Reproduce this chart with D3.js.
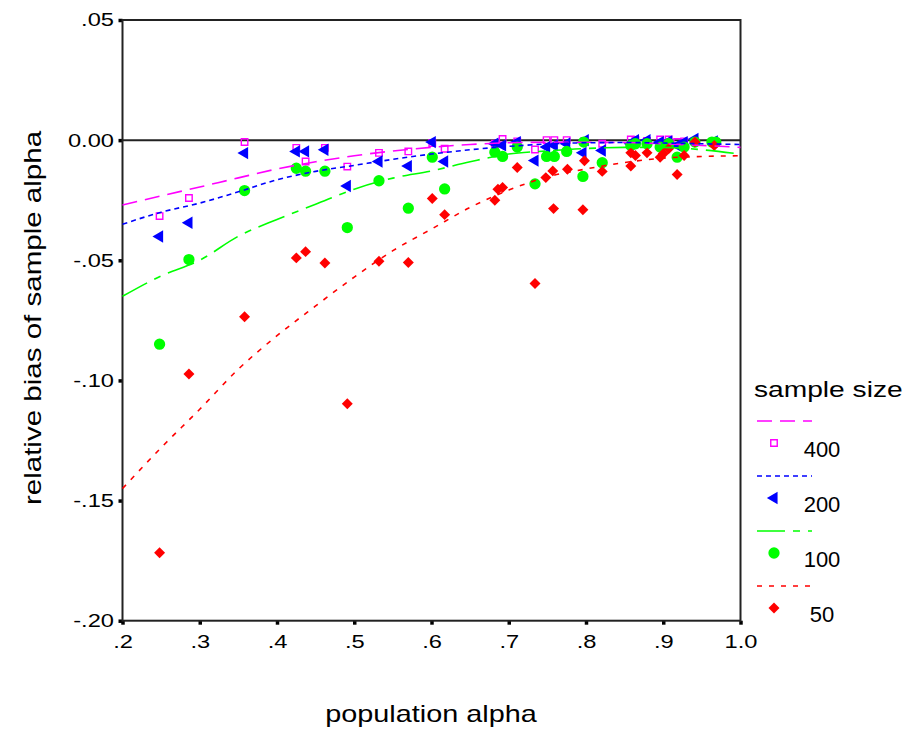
<!DOCTYPE html>
<head>
  <meta charset='utf-8'>
  <title>relative bias of sample alpha</title>
  <style>
    body {
      margin: 0;
      background: #fff;
    }
    svg text {
      font-family: Arial, "Liberation Sans", sans-serif;
      fill: #000;
    }
  </style>
</head>

<body>
  <div id="chart"></div>

  <script src="https://cdnjs.cloudflare.com/ajax/libs/d3/7.8.5/d3.min.js"></script>
  <script type="text/javascript">
    // points: [population alpha, relative bias]
    var n400 = [[0.248,-0.0316],[0.286,-0.0241],[0.358,-0.0008],[0.425,-0.0032],[0.437,-0.0089],
                [0.462,-0.0032],[0.491,-0.0110],[0.532,-0.0053],[0.570,-0.0047],[0.601,-0.0012],
                [0.617,-0.0036],[0.682,-0.0015],[0.692,0.0005],[0.711,-0.0005],[0.734,-0.0039],
                [0.749,0.0000],[0.759,0.0000],[0.775,0.0000],[0.798,-0.0003],[0.821,-0.0015],
                [0.858,0.0003],[0.864,0.0000],[0.879,-0.0003],[0.896,0.0003],[0.907,0.0003],
                [0.918,-0.0008],[0.927,-0.0005],[0.941,-0.0003],[0.966,-0.0003]];

    var n200 = [[0.248,-0.0401],[0.286,-0.0344],[0.358,-0.0054],[0.425,-0.0047],[0.437,-0.0047],
                [0.462,-0.0040],[0.491,-0.0191],[0.532,-0.0089],[0.570,-0.0108],[0.601,-0.0008],
                [0.617,-0.0089],[0.682,-0.0015],[0.692,-0.0022],[0.711,-0.0008],[0.734,-0.0085],
                [0.749,-0.0029],[0.759,-0.0022],[0.775,-0.0015],[0.796,-0.0053],[0.799,0.0000],
                [0.821,-0.0043],[0.858,-0.0015],[0.864,0.0000],[0.879,0.0000],[0.896,-0.0008],
                [0.907,-0.0005],[0.918,-0.0022],[0.927,-0.0008],[0.941,0.0005],[0.966,-0.0005]];

    var n100 = [[0.248,-0.0849],[0.286,-0.0497],[0.358,-0.0210],[0.425,-0.0117],[0.437,-0.0129],
                [0.462,-0.0129],[0.491,-0.0364],[0.532,-0.0169],[0.570,-0.0283],[0.601,-0.0071],
                [0.617,-0.0203],[0.682,-0.0050],[0.692,-0.0068],[0.711,-0.0029],[0.734,-0.0182],
                [0.749,-0.0068],[0.759,-0.0068],[0.775,-0.0047],[0.796,-0.0151],[0.797,-0.0008],
                [0.821,-0.0094],[0.858,-0.0022],[0.864,-0.0015],[0.879,-0.0015],[0.896,-0.0029],
                [0.907,-0.0015],[0.918,-0.0071],[0.927,-0.0029],[0.941,-0.0008],[0.963,-0.0008],
                [0.968,-0.0008]];

    var n50 = [[0.248,-0.1717],[0.286,-0.0973],[0.358,-0.0735],[0.425,-0.0490],[0.437,-0.0464],
               [0.462,-0.0511],[0.491,-0.1097],[0.532,-0.0504],[0.570,-0.0509],[0.601,-0.0243],
               [0.617,-0.0310],[0.682,-0.0250],[0.686,-0.0204],[0.692,-0.0197],[0.711,-0.0114],
               [0.734,-0.0597],[0.748,-0.0156],[0.757,-0.0128],[0.758,-0.0285],[0.776,-0.0121],
               [0.796,-0.0290],[0.798,-0.0086],[0.821,-0.0130],[0.858,-0.0108],[0.858,-0.0053],
               [0.864,-0.0064],[0.879,-0.0053],[0.896,-0.0071],[0.900,-0.0057],[0.907,-0.0036],
               [0.918,-0.0143],[0.927,-0.0064],[0.941,-0.0008],[0.966,-0.0022]];

    // fitted curves, read at steps of .05 from .2 to 1.0
    var fitX   = [0.20,0.25,0.30,0.35,0.40,0.45,0.50,0.55,0.60,0.65,0.70,0.75,0.80,0.85,0.90,0.95,1.00];
    var fit400 = [-0.0270,-0.0232,-0.0195,-0.0157,-0.0120,-0.0090,-0.0065,-0.0045,-0.0030,-0.0018,
                  -0.0011,-0.0009,-0.0009,-0.0010,-0.0015,-0.0022,-0.0030];
    var fit200 = [-0.0350,-0.0300,-0.0262,-0.0215,-0.0165,-0.0130,-0.0105,-0.0080,-0.0058,-0.0040,
                  -0.0026,-0.0016,-0.0011,-0.0010,-0.0012,-0.0015,-0.0018];
    var fit100 = [-0.0650,-0.0565,-0.0500,-0.0400,-0.0330,-0.0267,-0.0204,-0.0158,-0.0128,-0.0090,
                  -0.0058,-0.0045,-0.0035,-0.0030,-0.0030,-0.0040,-0.0058];
    var fit50  = [-0.1450,-0.1280,-0.1120,-0.0953,-0.0814,-0.0690,-0.0570,-0.0460,-0.0370,-0.0280,
                  -0.0208,-0.0153,-0.0120,-0.0093,-0.0075,-0.0068,-0.0065];

    var sizes = ["400", "200", "100", "50"];

    var xTicks = [0.2, 0.3, 0.4, 0.5, 0.6, 0.7, 0.8, 0.9, 1.0];
    var xLabels = [".2", ".3", ".4", ".5", ".6", ".7", ".8", ".9", "1.0"];
    var yTicks = [0.05, 0, -0.05, -0.10, -0.15, -0.20];
    var yLabels = [".05", "0.00", "-.05", "-.10", "-.15", "-.20"];

    var width = 909,
        height = 733;

    var series = [
      {name: sizes[0], pts: n400, fit: fit400, color: "#ff00ff", dash: "15,8",
       shape: d3.symbolSquare, size: 42, rot: 0, open: true},
      {name: sizes[1], pts: n200, fit: fit200, color: "#0000ff", dash: "5,4",
       shape: d3.symbolTriangle, size: 66, rot: -90, open: false},
      {name: sizes[2], pts: n100, fit: fit100, color: "#00ff00", dash: "28,8,7,8",
       shape: d3.symbolCircle, size: 100, rot: 0, open: false},
      {name: sizes[3], pts: n50, fit: fit50, color: "#ff0000", dash: "5,7",
       shape: d3.symbolSquare, size: 60, rot: 45, open: false}
    ];

    var x = d3.scaleLinear().domain([0.2, 1.0]).range([122.5, 740.5]);
    var y = d3.scaleLinear().domain([-0.2, 0.05]).range([620.7, 20]);

    var svg = d3.select("#chart").append("svg")
        .attr("width", width)
        .attr("height", height);

    // make text as wide as in the original picture
    function stretch(sel, k) {
      sel.each(function() {
        var w = this.getComputedTextLength();
        d3.select(this)
            .attr("textLength", w * k)
            .attr("lengthAdjust", "spacingAndGlyphs");
      });
    }

    function marker(g, s, px, py) {
      g.append("path")
          .attr("d", d3.symbol().type(s.shape).size(s.size)())
          .attr("transform", "translate(" + px + "," + py + ") rotate(" + s.rot + ")")
          .style("fill", s.open ? "none" : s.color)
          .style("stroke", s.color)
          .style("stroke-width", s.open ? 1.4 : 0);
    }

    // axes
    var yAxis = d3.axisLeft(y)
        .tickValues(yTicks)
        .tickFormat(function(d, i) { return yLabels[i]; })
        .tickSize(4)
        .tickPadding(4.5);

    var xAxis = d3.axisBottom(x)
        .tickValues(xTicks)
        .tickFormat(function(d, i) { return xLabels[i]; })
        .tickSize(4)
        .tickPadding(10.5);

    var gy = svg.append("g")
        .attr("transform", "translate(" + x.range()[0] + ",0)")
        .call(yAxis);
    var gx = svg.append("g")
        .attr("transform", "translate(0," + y.range()[0] + ")")
        .call(xAxis);

    [gx, gy].forEach(function(g) {
      g.select(".domain").remove();
      g.selectAll(".tick line").style("stroke", "#000").style("stroke-width", 3.5);
      g.selectAll(".tick text")
          .style("font-size", "18.5px")
          .style("font-family", "Arial, 'Liberation Sans', sans-serif")
          .style("fill", "#000")
          .call(stretch, 1.28);
    });

    // frame and zero line
    svg.append("rect")
        .attr("x", x.range()[0])
        .attr("y", y.range()[1])
        .attr("width", x.range()[1] - x.range()[0])
        .attr("height", y.range()[0] - y.range()[1])
        .style("fill", "none")
        .style("stroke", "#222")
        .style("stroke-width", 2);

    svg.append("line")
        .attr("x1", x.range()[0])
        .attr("x2", x.range()[1])
        .attr("y1", y(0))
        .attr("y2", y(0))
        .style("stroke", "#222")
        .style("stroke-width", 2);

    // points (under the curves)
    series.forEach(function(s) {
      var g = svg.append("g").attr("class", "pts");
      s.pts.forEach(function(p) { marker(g, s, x(p[0]), y(p[1])); });
    });

    var line = d3.line()
        .x(function(d, i) { return x(fitX[i]); })
        .y(function(d) { return y(d); })
        .curve(d3.curveMonotoneX);

    series.forEach(function(s) {
      svg.append("path")
          .datum(s.fit)
          .attr("d", line)
          .style("fill", "none")
          .style("stroke", s.color)
          .style("stroke-width", 1.6)
          .style("stroke-dasharray", s.dash);
    });

    // axis titles
    svg.append("text")
        .attr("x", 431)
        .attr("y", 722)
        .attr("text-anchor", "middle")
        .style("font-size", "24px")
        .text("population alpha")
        .call(stretch, 1.2);

    svg.append("text")
        .attr("transform", "translate(41,318) rotate(-90)")
        .attr("text-anchor", "middle")
        .style("font-size", "24px")
        .text("relative bias of sample alpha")
        .call(stretch, 1.23);

    // legend
    var legend = svg.append("g").attr("transform", "translate(757,0)");

    legend.append("text")
        .attr("x", -3)
        .attr("y", 397)
        .style("font-size", "22px")
        .text("sample size")
        .call(stretch, 1.28);

    series.forEach(function(s, i) {
      var top = 421 + i * 55;
      legend.append("line")
          .attr("x1", 0)
          .attr("x2", 55)
          .attr("y1", top)
          .attr("y2", top)
          .style("stroke", s.color)
          .style("stroke-width", 1.6)
          .style("stroke-dasharray", s.dash);
      marker(legend, s, 17, top + 22);
      legend.append("text")
          .attr("x", 65)
          .attr("y", top + 36)
          .attr("text-anchor", "middle")
          .style("font-size", "22px")
          .text(s.name);
    });
  </script>

</body>
